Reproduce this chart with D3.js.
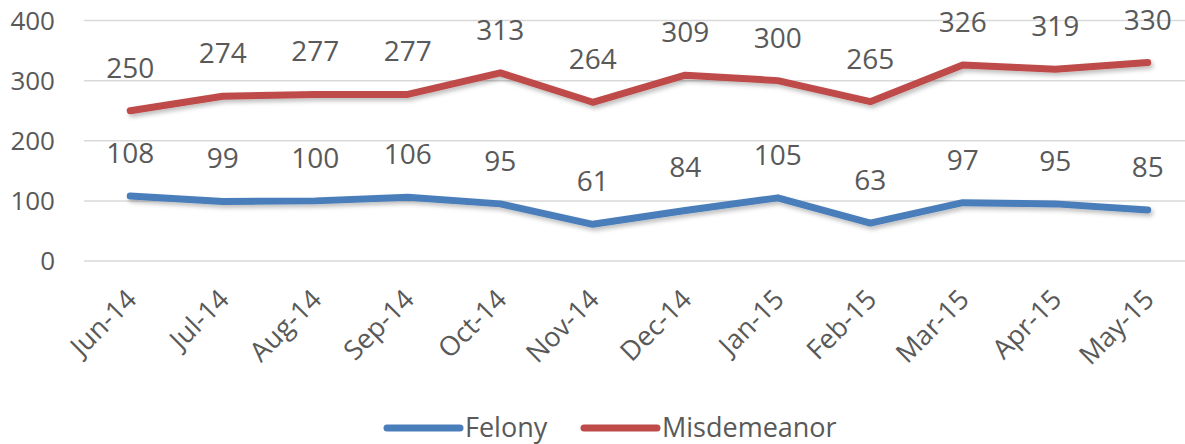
<!DOCTYPE html>
<html>
<head>
<meta charset="UTF-8">
<script src="https://d3js.org/d3.v7.min.js"></script>
<style>
  body { margin:0; background:#fff; overflow:hidden; }
  svg { display:block; }
  text { font-family: "Open Sans", sans-serif; fill:#595959; }
</style>
</head>
<body>
<svg id="chart" width="1185" height="444"></svg>
<script>
const months = ['Jun-14','Jul-14','Aug-14','Sep-14','Oct-14','Nov-14','Dec-14','Jan-15','Feb-15','Mar-15','Apr-15','May-15'];
const felony = [108, 99, 100, 106, 95, 61, 84, 105, 63, 97, 95, 85];
const misdemeanor = [250, 274, 277, 277, 313, 264, 309, 300, 265, 326, 319, 330];
const yTicks = [0, 100, 200, 300, 400];

const series = [
  { name: 'Felony', values: felony, color: '#4a7ebb' },
  { name: 'Misdemeanor', values: misdemeanor, color: '#be4b48' }
];

const svg = d3.select('#chart');
const plotL = 84, plotR = 1194, plotT = 20.5, plotB = 261;

const x = d3.scalePoint().domain(months).range([plotL, plotR]).padding(0.5);
const y = d3.scaleLinear().domain([0, 400]).range([plotB, plotT]);

const defs = svg.append('defs');
const f = defs.append('filter').attr('id', 'shadow').attr('x', '-5%').attr('y', '-50%').attr('width', '110%').attr('height', '200%');
f.append('feDropShadow').attr('dx', 2).attr('dy', 3).attr('stdDeviation', 2).attr('flood-color', '#000').attr('flood-opacity', 0.25);

// gridlines
svg.append('g')
  .selectAll('line')
  .data(yTicks)
  .join('line')
  .attr('x1', plotL).attr('x2', plotR)
  .attr('y1', d => y(d)).attr('y2', d => y(d))
  .attr('stroke', '#d9d9d9').attr('stroke-width', 1.5);

// y labels
svg.append('g')
  .selectAll('text')
  .data(yTicks)
  .join('text')
  .attr('x', 55).attr('y', d => y(d))
  .attr('dy', '0.35em')
  .attr('text-anchor', 'end')
  .style('font-size', '26px')
  .text(d => d);

// x labels
svg.append('g')
  .selectAll('text')
  .data(months)
  .join('text')
  .attr('text-anchor', 'end')
  .attr('transform', d => `translate(${x(d) + 8},${plotB + 40}) rotate(-45)`)
  .style('font-size', '27px')
  .text(d => d);

// lines
const line = d3.line().x((d, i) => x(months[i])).y(d => y(d));
svg.append('g')
  .selectAll('path')
  .data(series)
  .join('path')
  .attr('d', d => line(d.values))
  .attr('fill', 'none')
  .attr('stroke', d => d.color)
  .attr('stroke-width', 7)
  .attr('stroke-linecap', 'round')
  .attr('stroke-linejoin', 'round')
  .attr('filter', 'url(#shadow)');

// data labels
series.forEach(s => {
  svg.append('g')
    .selectAll('text')
    .data(s.values)
    .join('text')
    .attr('x', (d, i) => x(months[i]))
    .attr('y', d => y(d) - 33)
    .attr('text-anchor', 'middle')
    .style('font-size', '28px')
    .text(d => d);
});

// legend
const legend = [{ s: series[0], x: 387 }, { s: series[1], x: 584 }];
legend.forEach(l => {
  svg.append('line')
    .attr('x1', l.x).attr('x2', l.x + 73)
    .attr('y1', 428).attr('y2', 428)
    .attr('stroke', l.s.color).attr('stroke-width', 7)
    .attr('stroke-linecap', 'round');
  svg.append('text')
    .attr('x', l.x + 78).attr('y', 428)
    .attr('dy', '0.35em')
    .style('font-size', '27px')
    .text(l.s.name);
});
</script>
</body>
</html>
